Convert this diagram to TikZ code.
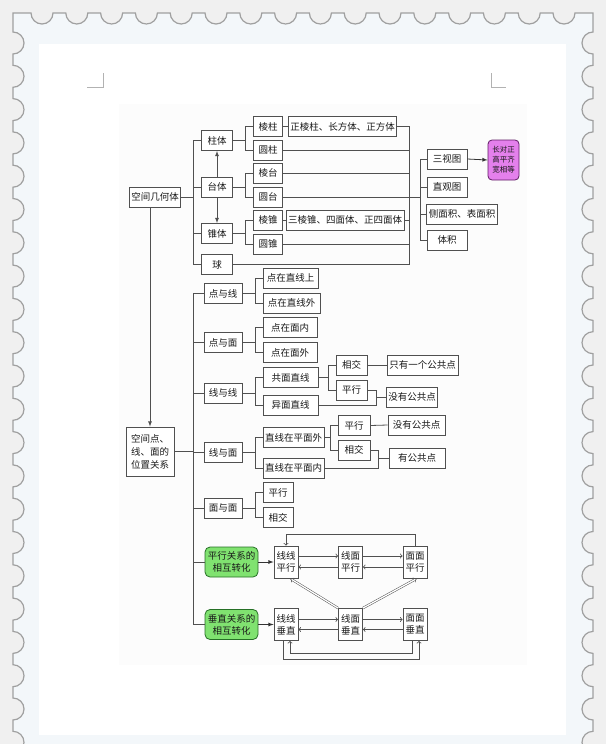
\documentclass[tikz,border=0pt]{standalone}
\usepackage{fontspec}
\usepackage{tikz}
\usetikzlibrary{arrows,calc}
\newfontfamily\cjk{Noto Sans CJK SC}
\definecolor{gm_green}{RGB}{128, 226, 112}
\definecolor{gm_dgreen}{RGB}{38, 112, 38}
\definecolor{gm_pink}{RGB}{228, 128, 236}
\definecolor{gm_dpink}{RGB}{96, 28, 100}
\definecolor{gm_line}{RGB}{80, 80, 80}
\definecolor{gm_page}{RGB}{240, 240, 240}
\definecolor{gm_stamp}{RGB}{243, 247, 250}
\definecolor{gm_edge}{RGB}{160, 160, 160}
\definecolor{gm_sheet}{RGB}{252, 252, 252}
\tikzstyle{bx}=[rectangle,draw=gm_line,fill=white,line width=0.8pt,inner sep=2pt,
  minimum height=20pt,text=black!90,font=\cjk\fontsize{9.5}{11}\selectfont]
\tikzstyle{tb}=[bx,minimum width=24pt,minimum height=32pt,align=center,
  font=\cjk\fontsize{9.5}{12}\selectfont]
\tikzstyle{gn}=[bx,rounded corners=5pt,fill=gm_green,draw=gm_dgreen,minimum width=53pt,
  minimum height=30pt,align=center,font=\cjk\fontsize{9.5}{12}\selectfont]
\tikzstyle{pn}=[bx,rounded corners=4pt,fill=gm_pink,draw=gm_dpink,minimum width=31pt,
  minimum height=40pt,align=center,font=\cjk\fontsize{7.5}{10}\selectfont]
\tikzstyle{ln}=[draw=gm_line,line width=0.8pt]
\tikzstyle{ar}=[ln,-to]
\tikzstyle{dk}=[ln,draw=black!80,-latex]
\tikzstyle{dbl}=[draw=gm_line,double,double distance=1.3pt,line width=0.5pt,-implies]
\tikzstyle{none}=[]

\begin{document}
\begin{tikzpicture}[x=1pt, y=-1pt]
    \useasboundingbox (0,0) rectangle (606,744);
    \clip (0,0) rectangle (606,744);
    % stamp
    \fill[gm_page] (0,0) rectangle (606,744);
    \filldraw[fill=gm_stamp, draw=gm_edge, line width=1.2pt] (13,20) -- (13,13)
        \foreach \k in {0,...,15} { -- ({42+34.8*\k-11},13) arc[start angle=180, end angle=0, radius=11] }
        -- (593,13)
        \foreach \k in {0,...,21} { -- (593,{43+33.3*\k-11}) arc[start angle=270, end angle=90, radius=11] }
        -- (593,800) -- (13,800)
        \foreach \k in {21,20,...,0} { -- (13,{43+33.3*\k+11}) arc[start angle=90, end angle=-90, radius=11] }
        -- cycle;
    \fill[white] (39,44) rectangle (566,735);
    \draw[black!30, line width=0.6pt] (103,73) -- (103,87) -- (87,87);
    \draw[black!30, line width=0.6pt] (491,73) -- (491,87) -- (506,87);
    \fill[gm_sheet] (119,104) rectangle (527,665);

            \node [style=bx, minimum width=50pt] (0) at (155, 197) {空间几何体};
            \node [style=bx, minimum width=31pt] (1) at (217, 140.5) {柱体};
            \node [style=bx, minimum width=31pt] (2) at (217, 187) {台体};
            \node [style=bx, minimum width=31pt] (3) at (217, 233.5) {锥体};
            \node [style=bx, minimum width=31pt] (4) at (217, 264.5) {球};
            \node [style=bx, minimum width=29pt] (5) at (268, 126.5) {棱柱};
            \node [style=bx, minimum width=29pt] (6) at (268, 150) {圆柱};
            \node [style=bx, minimum width=29pt] (7) at (268, 173) {棱台};
            \node [style=bx, minimum width=29pt] (8) at (268, 197) {圆台};
            \node [style=bx, minimum width=29pt] (9) at (268, 220) {棱锥};
            \node [style=bx, minimum width=29pt] (10) at (268, 244) {圆锥};
            \node [style=bx, minimum width=105pt] (11) at (342.5, 126.5) {正棱柱、长方体、正方体};
            \node [style=bx, minimum width=109pt] (12) at (345, 220) {三棱锥、四面体、正四面体};
            \node [style=bx, minimum width=40pt] (13) at (447, 159) {三视图};
            \node [style=bx, minimum width=40pt] (14) at (447, 187) {直观图};
            \node [style=bx, minimum width=70pt] (15) at (462, 214) {侧面积、表面积};
            \node [style=bx, minimum width=40pt] (16) at (447, 240) {体积};
            \node [style=pn] (17) at (503.5, 160) {长对正\\高平齐\\宽相等};
            \node [style=bx, minimum width=48pt, minimum height=49pt, align=center,
                   font=\cjk\fontsize{9.5}{13}\selectfont] (18) at (150, 451.5) {空间点、\\线、面的\\位置关系};
            \node [style=bx, minimum width=38pt] (19) at (223, 293.5) {点与线};
            \node [style=bx, minimum width=38pt] (20) at (223, 342.5) {点与面};
            \node [style=bx, minimum width=38pt] (21) at (223, 393) {线与线};
            \node [style=bx, minimum width=38pt] (22) at (223, 452.5) {线与面};
            \node [style=bx, minimum width=38pt] (23) at (223, 508) {面与面};
            \node [style=gn] (24) at (231.5, 562) {平行关系的\\相互转化};
            \node [style=gn] (25) at (231.5, 624.5) {垂直关系的\\相互转化};
            \node [style=bx, minimum width=55pt] (26) at (290.5, 278) {点在直线上};
            \node [style=bx, minimum width=57pt] (27) at (291.5, 303) {点在直线外};
            \node [style=bx, minimum width=54pt] (28) at (290, 327.5) {点在面内};
            \node [style=bx, minimum width=54pt] (29) at (290, 352.5) {点在面外};
            \node [style=bx, minimum width=55pt] (30) at (290.5, 377.5) {共面直线};
            \node [style=bx, minimum width=55pt] (31) at (290.5, 405) {异面直线};
            \node [style=bx, minimum width=31pt] (32) at (351.5, 365) {相交};
            \node [style=bx, minimum width=31pt] (33) at (351.5, 390) {平行};
            \node [style=bx, minimum width=71pt] (34) at (422.5, 365) {只有一个公共点};
            \node [style=bx, minimum width=50pt] (35) at (412, 397) {没有公共点};
            \node [style=bx, minimum width=61pt] (36) at (293.5, 437.5) {直线在平面外};
            \node [style=bx, minimum width=61pt] (37) at (293.5, 468) {直线在平面内};
            \node [style=bx, minimum width=32pt] (38) at (354, 425.5) {平行};
            \node [style=bx, minimum width=32pt] (39) at (354, 450) {相交};
            \node [style=bx, minimum width=57pt] (40) at (416.5, 425) {没有公共点};
            \node [style=bx, minimum width=56pt] (41) at (417, 458) {有公共点};
            \node [style=bx, minimum width=30pt] (42) at (278, 492.5) {平行};
            \node [style=bx, minimum width=30pt] (43) at (278, 517.5) {相交};
            \node [style=tb] (44) at (286, 562) {线线\\平行};
            \node [style=tb] (45) at (350.5, 562) {线面\\平行};
            \node [style=tb] (46) at (415, 562) {面面\\平行};
            \node [style=tb] (47) at (286, 624.5) {线线\\垂直};
            \node [style=tb] (48) at (350.5, 624.5) {线面\\垂直};
            \node [style=tb] (49) at (415, 624.5) {面面\\垂直};
            \coordinate (50) at (409, 126.5);
            \coordinate (51) at (376, 397);
            \coordinate (52) at (378, 458);

            % 空间几何体
            \foreach \n in {1,2,3,4} \draw [style=ln] (0.east) -- ++(12,0) |- (\n.west);
            \foreach \n in {5,6} \draw [style=ln] (1.east) -- ++(12,0) |- (\n.west);
            \foreach \n in {7,8} \draw [style=ln] (2.east) -- ++(12,0) |- (\n.west);
            \foreach \n in {9,10} \draw [style=ln] (3.east) -- ++(12,0) |- (\n.west);
            \draw [style=ln] (5.east) -- (11.west);
            \draw [style=ln] (9.east) -- (12.west);
            \draw [style=ln] (11.east) -- (50) -- (50 |- 4.east) -- (4.east);
            \foreach \n in {6,7,8,10,12} \draw [style=ln] (\n.east) -- (\n.east -| 50);
            \foreach \n in {13,14,15,16} \draw [style=ln] (50 |- 8.east) -- ++(11,0) |- (\n.west);
            \draw [style=dk] (13.east) -- (17.west);
            \draw [style=ln, -latex] (2.north) -- (1.south);
            \draw [style=ln, -latex] (2.south) -- (3.north);
            \draw [style=ln, -latex] (18.north |- 0.south) -- (18.north);

            % 位置关系
            \foreach \n in {19,...,25} \draw [style=ln] (18.east) -- ++(19,0) |- (\n.west);
            \foreach \n in {26,27} \draw [style=ln] (19.east) -- ++(13,0) |- (\n.west);
            \foreach \n in {28,29} \draw [style=ln] (20.east) -- ++(13,0) |- (\n.west);
            \foreach \n in {30,31} \draw [style=ln] (21.east) -- ++(13,0) |- (\n.west);
            \foreach \n in {36,37} \draw [style=ln] (22.east) -- ++(13,0) |- (\n.west);
            \foreach \n in {42,43} \draw [style=ln] (23.east) -- ++(13,0) |- (\n.west);
            \foreach \n in {32,33} \draw [style=ln] (30.east) -- ++(10,0) |- (\n.west);
            \foreach \n in {38,39} \draw [style=ln] (36.east) -- ++(6,0) |- (\n.west);
            \draw [style=ln] (32.east) -- (34.west);
            \draw [style=ln] (38.east) -- (40.west);
            \draw [style=ln] (33.east) -| (51 |- 31.east) -- (31.east);
            \draw [style=ln] (51) -- (35.west);
            \draw [style=ln] (39.east) -| (52 |- 37.east) -- (37.east);
            \draw [style=ln] (52) -- (41.west);

            % 相互转化
            \draw [style=dk] (24.east) -- (44.west);
            \draw [style=dk] (25.east) -- (47.west);
            \draw [style=ar] ([yshift=6pt]44.east) -- ([yshift=6pt]45.west);
            \draw [style=ar] ([yshift=-5pt]45.west) -- ([yshift=-5pt]44.east);
            \draw [style=ar] ([yshift=6pt]45.east) -- ([yshift=6pt]46.west);
            \draw [style=ar] ([yshift=-5pt]46.west) -- ([yshift=-5pt]45.east);
            \draw [style=ar] ([yshift=5pt]47.east) -- ([yshift=5pt]48.west);
            \draw [style=ar] ([yshift=-5pt]48.west) -- ([yshift=-5pt]47.east);
            \draw [style=ar] ([yshift=5pt]48.east) -- ([yshift=5pt]49.west);
            \draw [style=ar] ([yshift=-5pt]49.west) -- ([yshift=-5pt]48.east);
            \draw [style=ar] (46.north) -- ++(0,-11) -| (44.north);
            \draw [style=ar] ([xshift=-3pt]47.south) -- ++(0,18) -| ([xshift=4pt]49.south);
            \draw [style=ar] ([xshift=-3pt]49.south) -- ++(0,12) -| ([xshift=4pt]47.south);
            \draw [style=dbl] (48.north west) -- ([xshift=4pt]44.south);
            \draw [style=dbl] (48.north east) -- ([xshift=2pt]46.south);
    \end{tikzpicture}
\end{document}
